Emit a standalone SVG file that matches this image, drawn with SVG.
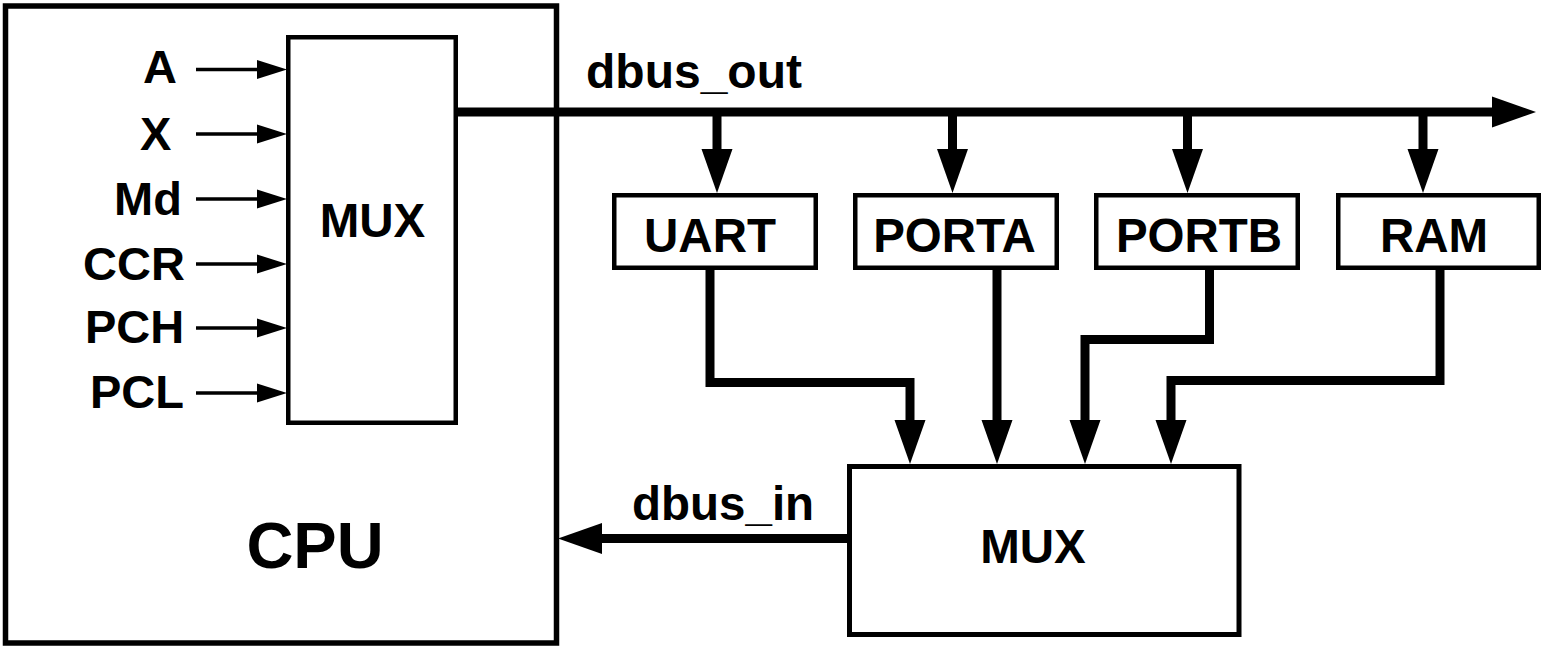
<svg xmlns="http://www.w3.org/2000/svg" width="1543" height="646" viewBox="0 0 1543 646">
<style>
.box{fill:#fff;stroke:#000}
.lbl{font-family:"Liberation Sans",Arial,Helvetica,sans-serif;font-weight:bold;font-size:47.5px;fill:#000}
.sig{font-size:47px}
.in{stroke:#000;stroke-width:3.3;fill:none}
.bus{stroke:#000;stroke-width:9;fill:none;stroke-linejoin:miter;stroke-linecap:butt}
</style>
<defs>
<marker id="big" markerUnits="userSpaceOnUse" markerWidth="46" markerHeight="32" viewBox="0 -16 46 32" refX="2" refY="0" orient="auto" overflow="visible">
<path d="M0,-15.5 L44,0 L0,15.5 Z" fill="#000"/>
</marker>
<marker id="small" markerUnits="userSpaceOnUse" markerWidth="31" markerHeight="20" viewBox="0 -10 31 20" refX="1" refY="0" orient="auto" overflow="visible">
<path d="M0,-9.5 L30,0 L0,9.5 Z" fill="#000"/>
</marker>
</defs>
<rect width="1543" height="646" fill="#fff"/>
<g id="cpu">
<rect class="box" x="5.5" y="6" width="551" height="637" stroke-width="5.5"/>
<text class="lbl" x="315" y="568" text-anchor="middle" style="font-size:65px">CPU</text>
</g>
<g id="cpu-mux">
<rect class="box" x="288.25" y="37.25" width="167.5" height="385.5" stroke-width="4.5"/>
<text class="lbl" x="372.5" y="237" text-anchor="middle">MUX</text>
</g>
<g id="inputs">
<text class="lbl sig" x="143" y="83">A</text>
<text class="lbl sig" x="140" y="150">X</text>
<text class="lbl sig" x="114" y="215">Md</text>
<text class="lbl sig" x="83" y="280">CCR</text>
<text class="lbl sig" x="85" y="343">PCH</text>
<text class="lbl sig" x="90" y="408">PCL</text>
</g>
<g id="uart">
<rect class="box" x="614.25" y="195.25" width="201.5" height="72.5" stroke-width="4.5"/>
<text class="lbl" x="710" y="252" text-anchor="middle">UART</text>
</g>
<g id="porta">
<rect class="box" x="855.25" y="195.25" width="201.5" height="72.5" stroke-width="4.5"/>
<text class="lbl" x="954.5" y="252" text-anchor="middle">PORTA</text>
</g>
<g id="portb">
<rect class="box" x="1096.25" y="195.25" width="201.5" height="72.5" stroke-width="4.5"/>
<text class="lbl" x="1199" y="252" text-anchor="middle">PORTB</text>
</g>
<g id="ram">
<rect class="box" x="1338.25" y="195.25" width="200.5" height="72.5" stroke-width="4.5"/>
<text class="lbl" x="1434" y="252" text-anchor="middle">RAM</text>
</g>
<g id="out-mux">
<rect class="box" x="849.5" y="466.5" width="389.5" height="168" stroke-width="5"/>
<text class="lbl" x="1033" y="563" text-anchor="middle">MUX</text>
</g>
<g id="connectors">
<path class="in" d="M196,69.5 H258" marker-end="url(#small)"/>
<path class="in" d="M196,134 H258" marker-end="url(#small)"/>
<path class="in" d="M196,199 H258" marker-end="url(#small)"/>
<path class="in" d="M196,264 H258" marker-end="url(#small)"/>
<path class="in" d="M196,328 H258" marker-end="url(#small)"/>
<path class="in" d="M196,393 H258" marker-end="url(#small)"/>
<path class="bus" d="M456,112 H1494" marker-end="url(#big)"/>
<path class="bus" d="M717,112 V151" marker-end="url(#big)"/>
<path class="bus" d="M952.5,112 V151" marker-end="url(#big)"/>
<path class="bus" d="M1187.5,112 V151" marker-end="url(#big)"/>
<path class="bus" d="M1423,112 V151" marker-end="url(#big)"/>
<path class="bus" d="M710,266 V382.5 H910 V422" marker-end="url(#big)"/>
<path class="bus" d="M997,266 V422" marker-end="url(#big)"/>
<path class="bus" d="M1209.5,266 V339.5 H1085 V422" marker-end="url(#big)"/>
<path class="bus" d="M1440,266 V380.5 H1171 V422" marker-end="url(#big)"/>
<path class="bus" d="M847,538.5 H600" marker-end="url(#big)"/>
<text class="lbl" x="586" y="88" style="font-size:48px">dbus_out</text>
<text class="lbl" x="632" y="520">dbus_in</text>
</g>
</svg>
